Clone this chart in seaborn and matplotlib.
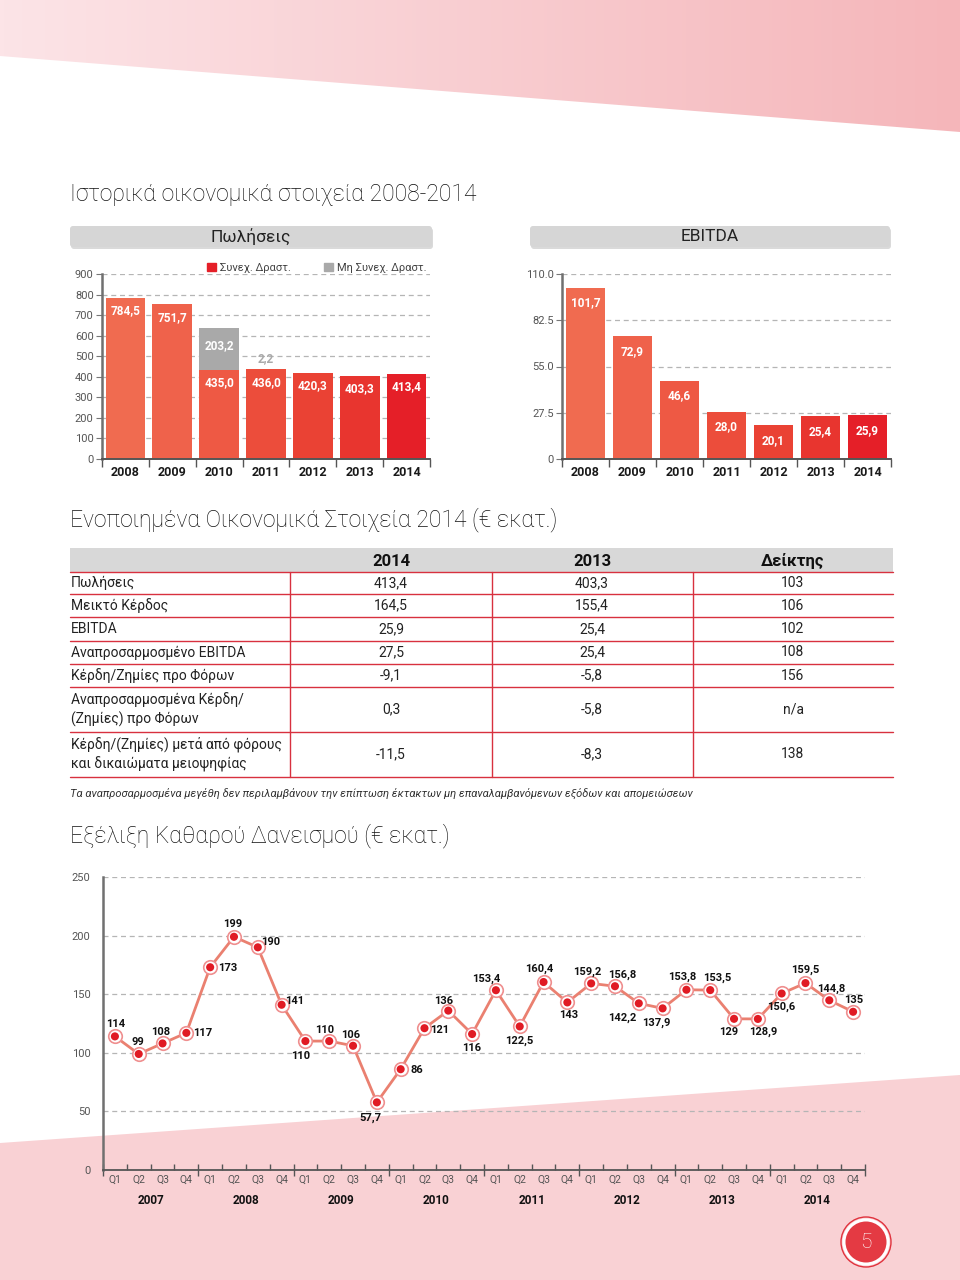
import numpy as np
import pandas as pd
import matplotlib
matplotlib.use('Agg')
import matplotlib.pyplot as plt
from matplotlib import font_manager
from matplotlib.colors import LinearSegmentedColormap
from matplotlib.patches import Polygon, Rectangle, FancyBboxPatch, Circle, Patch
import seaborn as sns

# ---- data -------------------------------------------------------------
years = ['2008', '2009', '2010', '2011', '2012', '2013', '2014']
sales_cont = [784.5, 751.7, 435.0, 436.0, 420.3, 403.3, 413.4]
sales_disc = [0.0, 0.0, 203.2, 2.2, 0.0, 0.0, 0.0]
ebitda = [101.7, 72.9, 46.6, 28.0, 20.1, 25.4, 25.9]

table_rows = ['Πωλήσεις', 'Μεικτό Κέρδος', 'EBITDA', 'Αναπροσαρμοσμένο EBITDA',
              'Κέρδη/Ζημίες προ Φόρων', 'Αναπροσαρμοσμένα Κέρδη/\n(Ζημίες) προ Φόρων',
              'Κέρδη/(Ζημίες) μετά από φόρους\nκαι δικαιώματα μειοψηφίας']
table_2014 = ['413,4', '164,5', '25,9', '27,5', '-9,1', '0,3', '-11,5']
table_2013 = ['403,3', '155,4', '25,4', '25,4', '-5,8', '-5,8', '-8,3']
table_index = ['103', '106', '102', '108', '156', 'n/a', '138']
table_header = ['2014', '2013', 'Δείκτης']

debt_years = ['2007', '2008', '2009', '2010', '2011', '2012', '2013', '2014']
quarters = ['Q1', 'Q2', 'Q3', 'Q4']
net_debt = [114, 99, 108, 117, 173, 199, 190, 141,
            110, 110, 106, 57.7, 86, 121, 136, 116,
            153.4, 122.5, 160.4, 143, 159.2, 156.8, 142.2, 137.9,
            153.8, 153.5, 129, 128.9, 150.6, 159.5, 144.8, 135]

# label offsets (pixels, right / down) for the net debt points
debt_label_offsets = [(1, -12), (-1, -12), (-2, -11), (16, 0), (18, 1), (-1, -13), (13, -5), (13, -4),
                      (-5, 15), (-5, -11), (-2, -11), (-6, 15), (16, 1), (15, 2), (-5, -10), (0, 14),
                      (-10, -11), (0, 14), (-4, -13), (1, 13), (-4, -12), (7, -11), (-17, 14), (-6, 14),
                      (-4, -13), (7, -12), (-5, 13), (5, 13), (0, 13), (0, -13), (2, -11), (1, -12)]

bar_colors = ['#f06b50', '#ef624b', '#ee5944', '#ec4d3b', '#ea4234', '#e8352f', '#e51f28']
grey_col = '#a9a9a9'
line_red = '#d8313f'

sns.set_theme(style='ticks')
installed = {f.name for f in font_manager.fontManager.ttflist}
main_font = 'Roboto' if 'Roboto' in installed else 'Liberation Sans'
plt.rcParams['font.family'] = [main_font, 'DejaVu Sans']
plt.rcParams['axes.unicode_minus'] = False

W, H = 960, 1280
fig = plt.figure(figsize=(W / 100, H / 100), dpi=100)
fig.patch.set_facecolor('white')


def px_axes(l, t, r, b):
    return fig.add_axes([l / W, 1 - b / H, (r - l) / W, (b - t) / H], zorder=1)


# ---- page background --------------------------------------------------
bg = fig.add_axes([0, 0, 1, 1], zorder=0)
grad = np.linspace(0, 1, 256)[None, :]

band = Polygon([(0, 0), (W, 0), (W, 132), (0, 56)], closed=True, fc='none', ec='none')
bg.add_patch(band)
im = bg.imshow(grad, extent=[0, W, 132, 0], aspect='auto',
               cmap=LinearSegmentedColormap.from_list('b1', ['#fce4e7', '#f5b6ba']))
im.set_clip_path(band)

bg.add_patch(Polygon([(0, 1143), (W, 1075), (W, H), (0, H)], closed=True, fc='#f9d1d4', ec='none'))
tri = Polygon([(783, H), (W, 1181), (W, H)], closed=True, fc='none', ec='none')
bg.add_patch(tri)
im2 = bg.imshow(grad, extent=[783, W, H, 1181], aspect='auto',
                cmap=LinearSegmentedColormap.from_list('b2', ['#f09195', '#e8535c']))
im2.set_clip_path(tri)

bg.add_patch(Circle((866, 1242), 25, fc='none', ec='#e0323d', lw=1))
bg.add_patch(Circle((866, 1242), 23.5, fc='white', ec='none'))
bg.add_patch(Circle((866, 1242), 20.5, fc='#e43a43', ec='none'))
bg.text(866, 1243, '5', color='white', fontsize=15, fontweight='light', ha='center', va='center')

bg.set_xlim(0, W)
bg.set_ylim(H, 0)
bg.axis('off')

# ---- titles -----------------------------------------------------------
title_kw = dict(fontsize=16.5, fontweight='light', color='#111111', va='center', ha='left')
bg.text(70, 195, 'Ιστορικά οικονομικά στοιχεία 2008-2014', **title_kw)
bg.text(70, 520, 'Ενοποιημένα Οικονομικά Στοιχεία 2014 (€ εκατ.)', **title_kw)
bg.text(70, 836, 'Εξέλιξη Καθαρού Δανεισμού (€ εκατ.)', **title_kw)

for x0, x1, label in [(70, 432, 'Πωλήσεις'), (530, 890, 'EBITDA')]:
    bg.add_patch(FancyBboxPatch((x0 + 1, 228), x1 - x0, 21, boxstyle='round,pad=0,rounding_size=3',
                                fc='#c2c2c2', ec='none', alpha=0.6))
    bg.add_patch(FancyBboxPatch((x0, 226), x1 - x0, 21, boxstyle='round,pad=0,rounding_size=3',
                                fc='#d6d6d6', ec='none'))
    bg.text((x0 + x1) / 2, 236.5, label, fontsize=12.5, color='#222222', ha='center', va='center')


# ---- bar charts -------------------------------------------------------
def style_bar_axes(ax, ymax, ticks, ticklabels):
    ax.set_facecolor('none')
    ax.set_xlim(-0.5, 6.5)
    ax.set_ylim(0, ymax)
    ax.set_yticks(ticks, ticklabels)
    ax.set_xticks(range(len(years)), years)
    ax.set_xticks(np.arange(-0.5, len(years), 1), minor=True)
    ax.set_xlabel('')
    ax.set_ylabel('')
    ax.set_axisbelow(True)
    ax.yaxis.grid(True, color='#b5b5b5', lw=0.9, ls=(0, (4, 3)))
    ax.xaxis.grid(False)
    for s in ['top', 'right']:
        ax.spines[s].set_visible(False)
    ax.spines['left'].set_color('#707070')
    ax.spines['left'].set_linewidth(1.8)
    ax.spines['bottom'].set_color('#555555')
    ax.spines['bottom'].set_linewidth(1.4)
    ax.tick_params(axis='y', which='major', direction='out', length=4, width=0.8, color='#777777',
                   labelsize=8, labelcolor='#555555', pad=2)
    ax.tick_params(axis='x', which='major', length=0, labelsize=9, pad=5, labelcolor='#1a1a1a')
    ax.tick_params(axis='x', which='minor', direction='out', length=6, width=1, color='#555555')
    for t in ax.get_xticklabels():
        t.set_fontweight('bold')


ax1 = px_axes(102, 274, 430, 459)
sales_df = pd.DataFrame({'year': years, 'cont': sales_cont, 'disc': sales_disc})
sales_df['total'] = sales_df['cont'] + sales_df['disc']
sns.barplot(data=sales_df, x='year', y='total', color=grey_col, saturation=1, width=0.85,
            linewidth=0, errorbar=None, ax=ax1)
sns.barplot(data=sales_df, x='year', y='cont', hue='year', palette=bar_colors, saturation=1,
            width=0.85, linewidth=0, errorbar=None, legend=False, ax=ax1)
style_bar_axes(ax1, 900, range(0, 901, 100), [str(v) for v in range(0, 901, 100)])

for i, (c, d) in enumerate(zip(sales_cont, sales_disc)):
    ax1.annotate(f'{c:.1f}'.replace('.', ','), (i, c), xytext=(0, -13), textcoords='offset pixels',
                 ha='center', va='center', color='white', fontweight='bold', fontsize=8.5)
    if d > 50:
        ax1.annotate(f'{d:.1f}'.replace('.', ','), (i, c + d), xytext=(0, -18), textcoords='offset pixels',
                     ha='center', va='center', color='white', fontweight='bold', fontsize=8.5)
    elif d > 0:
        ax1.annotate(f'{d:.1f}'.replace('.', ','), (i, c + d), xytext=(0, 10), textcoords='offset pixels',
                     ha='center', va='center', color=grey_col, fontweight='bold', fontsize=8.5)

leg = ax1.legend(handles=[Patch(color='#e51f28', label='Συνεχ. Δραστ.'),
                          Patch(color=grey_col, label='Μη Συνεχ. Δραστ.')],
                 loc='lower right', bbox_to_anchor=(0.99, 1.005), ncol=2, frameon=False, fontsize=8,
                 handlelength=0.75, handleheight=0.75, handletextpad=0.4, columnspacing=3.0,
                 borderaxespad=0, borderpad=0)
for t in leg.get_texts():
    t.set_color('#444444')

ax2 = px_axes(562, 274, 891, 459)
ebitda_df = pd.DataFrame({'year': years, 'ebitda': ebitda})
sns.barplot(data=ebitda_df, x='year', y='ebitda', hue='year', palette=bar_colors, saturation=1,
            width=0.85, linewidth=0, errorbar=None, legend=False, ax=ax2)
style_bar_axes(ax2, 110, [0, 27.5, 55, 82.5, 110], ['0', '27.5', '55.0', '82.5', '110.0'])
for i, v in enumerate(ebitda):
    ax2.annotate(f'{v:.1f}'.replace('.', ','), (i, v), xytext=(0, -15), textcoords='offset pixels',
                 ha='center', va='center', color='white', fontweight='bold', fontsize=8.5)

# ---- table ------------------------------------------------------------
col_lines = [290, 492, 693]
col_centers = [391, 592, 793]
row_bounds = [572, 594, 617, 641, 664, 687, 732, 777]
bg.add_patch(Rectangle((70, 548), 823, 24, fc='#d8d8d8', ec='none'))
for y in row_bounds:
    bg.plot([70, 893], [y, y], color=line_red, lw=1)
for x in col_lines:
    bg.plot([x, x], [572, 777], color=line_red, lw=1)
for xc, h in zip(col_centers, table_header):
    bg.text(xc, 561, h, fontsize=12, fontweight='bold', color='#111111', ha='center', va='center')
for r, label in enumerate(table_rows):
    yc = (row_bounds[r] + row_bounds[r + 1]) / 2
    bg.text(71, yc, label, fontsize=10, color='#222222', ha='left', va='center', linespacing=1.4)
    for xc, val in zip(col_centers, [table_2014[r], table_2013[r], table_index[r]]):
        bg.text(xc, yc, val, fontsize=10, color='#222222', ha='center', va='center')
bg.text(70, 793, 'Τα αναπροσαρμοσμένα μεγέθη δεν περιλαμβάνουν την επίπτωση έκτακτων μη '
        'επαναλαμβανόμενων εξόδων και απομειώσεων', fontsize=8, fontstyle='italic',
        color='#333333', ha='left', va='center')

# ---- net debt line chart ---------------------------------------------
ax3 = px_axes(103, 877, 865, 1170)
ax3.set_facecolor('none')
debt_df = pd.DataFrame({'pos': np.arange(len(net_debt)), 'debt': net_debt})
sns.lineplot(data=debt_df, x='pos', y='debt', color='#ea8070', lw=2, ax=ax3, zorder=2)
sns.scatterplot(data=debt_df, x='pos', y='debt', s=95, color='white', edgecolor='#ef8f8f',
                linewidth=1.2, ax=ax3, zorder=3)
sns.scatterplot(data=debt_df, x='pos', y='debt', s=34, color='#e01b24', edgecolor='none',
                ax=ax3, zorder=4)

ax3.set_xlim(-0.5, 31.5)
ax3.set_ylim(0, 250)
ax3.set_xlabel('')
ax3.set_ylabel('')
ax3.set_yticks(range(0, 251, 50))
ax3.set_xticks(np.arange(-0.5, 32, 4), [''] * 9)
ax3.set_xticks([b for b in np.arange(-0.5, 32, 1) if (b + 0.5) % 4], minor=True)
ax3.set_axisbelow(True)
ax3.yaxis.grid(True, color='#b5b5b5', lw=0.9, ls=(0, (4, 3)))
for s in ['top', 'right']:
    ax3.spines[s].set_visible(False)
ax3.spines['left'].set_color('#707070')
ax3.spines['left'].set_linewidth(1.8)
ax3.spines['bottom'].set_color('#555555')
ax3.spines['bottom'].set_linewidth(1.3)
ax3.tick_params(axis='x', which='major', direction='inout', length=9, width=1, color='#555555')
ax3.tick_params(axis='x', which='minor', direction='in', length=4, width=1, color='#555555')
ax3.tick_params(axis='y', length=0, labelsize=8, labelcolor='#555555', pad=9)

for i in range(len(net_debt)):
    ax3.annotate(quarters[i % 4], (i, 0), xycoords=('data', 'axes fraction'), xytext=(0, -10),
                 textcoords='offset pixels', ha='center', va='center', fontsize=7.5, color='#555555')
for k, yr in enumerate(debt_years):
    ax3.annotate(yr, (4 * k + 1.5, 0), xycoords=('data', 'axes fraction'), xytext=(0, -31),
                 textcoords='offset pixels', ha='center', va='center', fontsize=8.5,
                 fontweight='bold', color='#111111')
for i, (v, (dx, dy)) in enumerate(zip(net_debt, debt_label_offsets)):
    ax3.annotate(f'{v:g}'.replace('.', ','), (i, v), xytext=(dx, -dy), textcoords='offset pixels',
                 ha='center', va='center', fontsize=8, fontweight='bold', color='#111111', zorder=5)

fig.savefig('out.png', dpi=100, facecolor='white')
